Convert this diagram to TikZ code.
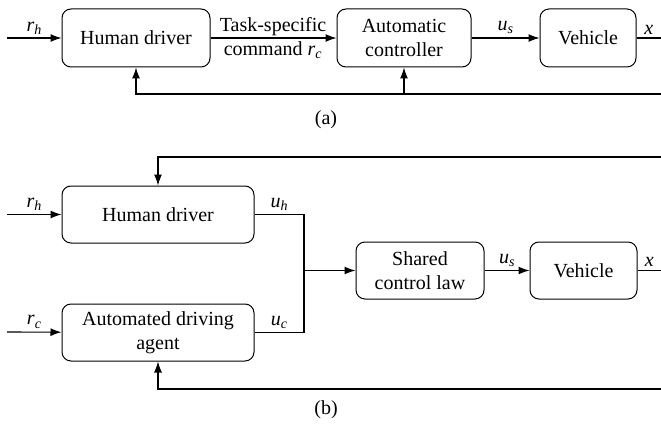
\documentclass[tikz,border=0pt]{standalone}
\usepackage{fontspec}
\setmainfont{Liberation Serif}
\usetikzlibrary{arrows.meta}
\newcommand{\sigvar}[2]{\textit{#1}\textsubscript{\textit{#2}}}
\begin{document}
\begin{tikzpicture}[x=1pt,y=-1pt,font=\fontsize{20}{24}\selectfont,
  block/.style={draw,rounded corners=9pt,align=center,inner sep=2pt,line width=1pt},
  sig/.style={line width=1.1pt,-{Latex[length=11pt,width=8pt]}},
  wire/.style={line width=1.1pt}]
\useasboundingbox (0,0) rectangle (661,425);

% (a)
\node[block,minimum width=148pt,minimum height=58pt] (hda) at (136,38) {Human driver};
\node[block,minimum width=134pt,minimum height=58pt] (ctrl) at (404,38) {Automatic\\controller};
\node[block,minimum width=96pt,minimum height=58pt] (veha) at (588,38) {Vehicle};
\node[align=center] (cmd) at (273,38) {Task-specific\\command \sigvar{r}{c}};
\node (capa) at (326,120) {(a)};

\coordinate (ina) at (7,38);
\coordinate (outa) at (661,38);
\coordinate (fba) at (661,94);

\draw[sig] (ina) -- node[above] {\sigvar{r}{h}} (hda);
\draw[sig] (hda) -- (ctrl);
\draw[sig] (ctrl) -- node[above] {\sigvar{u}{s}} (veha);
\draw[wire] (veha) -- node[above] {\textit{x}} (outa);
\draw[sig] (fba) -| (hda.south);
\draw[sig] (ctrl.south |- fba) -- (ctrl.south);

% (b)
\node[block,minimum width=192pt,minimum height=57pt] (hdb) at (158,214.5) {Human driver};
\node[block,minimum width=192pt,minimum height=57pt] (agent) at (158,332.5) {Automated driving\\agent};
\node[block,minimum width=128pt,minimum height=57pt] (law) at (420,270.5) {Shared\\control law};
\node[block,minimum width=107pt,minimum height=57pt] (vehb) at (583.5,270.5) {Vehicle};
\node (capb) at (326,410) {(b)};

\coordinate (inh) at (7,214.5);
\coordinate (inc) at (7,332);
\coordinate (jn) at (304,270.5);
\coordinate (outb) at (661,270.5);
\coordinate (fbt) at (661,157);
\coordinate (fbb) at (661,389);

\draw[sig] (inh) -- node[above] {\sigvar{r}{h}} (hdb);
\draw[sig] (inc) -- node[above] {\sigvar{r}{c}} (agent);
\draw[wire] (hdb) -- node[above] {\sigvar{u}{h}} (hdb.east -| jn) -- (jn);
\draw[wire] (agent) -- node[above] {\sigvar{u}{c}} (agent.east -| jn) -- (jn);
\draw[sig] (jn) -- (law);
\draw[sig] (law) -- node[above] {\sigvar{u}{s}} (vehb);
\draw[wire,line width=1.6pt] (vehb) -- node[above] {\textit{x}} (outb);
\draw[sig] (fbt) -| (hdb.north);
\draw[sig] (fbb) -| (agent.south);
\end{tikzpicture}
\end{document}
